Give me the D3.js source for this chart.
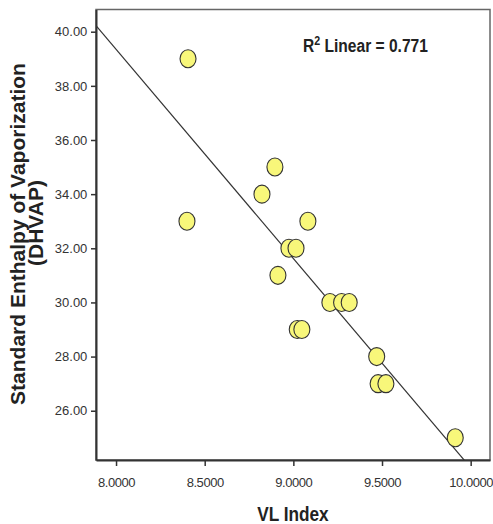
<html>
<head>
<script src="https://cdn.jsdelivr.net/npm/d3@7"></script>
<style>
  body { margin: 0; background: #fff; }
  text { font-family: Arial, "Liberation Sans", sans-serif; }
  .tick text { font-size: 13px; fill: #333; }
</style>
</head>
<body>
<svg id="chart" width="493" height="524"></svg>
<script>
// VL Index vs DHVAP
var vlIndex = [8.406, 8.400, 8.823, 8.896, 8.975, 9.015, 9.082, 8.913, 9.206,
               9.272, 9.315, 9.022, 9.048, 9.470, 9.478, 9.522, 9.913];
var dhvap   = [39, 33, 34, 35, 32, 32, 33, 31, 30,
               30, 30, 29, 29, 28, 27, 27, 25];
var xTicks = [8.0, 8.5, 9.0, 9.5, 10.0];
var yTicks = [26, 28, 30, 32, 34, 36, 38, 40];
var r2Label = "0.771";

var svg = d3.select("#chart");
var pLeft = 96, pRight = 490, pTop = 9.5, pBottom = 460;

var x = d3.scaleLinear().domain([7.887, 10.109]).range([pLeft, pRight]);
var y = d3.scaleLinear().domain([24.18, 40.82]).range([pBottom, pTop]);

svg.append("clipPath").attr("id", "plotclip")
  .append("rect").attr("x", pLeft).attr("y", pTop)
  .attr("width", pRight - pLeft).attr("height", pBottom - pTop);

// frame
svg.append("rect")
  .attr("x", pLeft).attr("y", pTop)
  .attr("width", pRight - pLeft).attr("height", pBottom - pTop)
  .attr("fill", "none").attr("stroke", "#666").attr("stroke-width", 1.5);

// axes
var xAxis = d3.axisBottom(x).tickValues(xTicks).tickSize(6).tickSizeOuter(0)
  .tickFormat(d3.format(".4f"));
var yAxis = d3.axisLeft(y).tickValues(yTicks).tickSize(5).tickSizeOuter(0)
  .tickFormat(d3.format(".2f"));

var gx = svg.append("g").attr("transform", "translate(0," + pBottom + ")").call(xAxis);
var gy = svg.append("g").attr("transform", "translate(" + pLeft + ",0)").call(yAxis);
[gx, gy].forEach(function(g) {
  g.select(".domain").attr("stroke", "#333").attr("stroke-width", 2);
  g.selectAll(".tick line").attr("stroke", "#333").attr("stroke-width", 1.5);
});
gx.selectAll(".tick text").attr("dy", "1.35em").style("letter-spacing", "-0.45px");
gy.selectAll(".tick text").attr("dx", "-0.05em");

// least squares fit
var mx = d3.mean(vlIndex), my = d3.mean(dhvap);
var sxy = d3.sum(vlIndex, function(v, i) { return (v - mx) * (dhvap[i] - my); });
var sxx = d3.sum(vlIndex, function(v) { return (v - mx) * (v - mx); });
var slope = sxy / sxx, icpt = my - slope * mx;
var xd = x.domain();

svg.append("line")
  .attr("clip-path", "url(#plotclip)")
  .attr("x1", x(xd[0])).attr("y1", y(icpt + slope * xd[0]))
  .attr("x2", x(xd[1])).attr("y2", y(icpt + slope * xd[1]))
  .attr("stroke", "#333").attr("stroke-width", 1.2);

// points
svg.append("g").selectAll("ellipse")
  .data(vlIndex)
  .enter().append("ellipse")
  .attr("cx", function(d) { return x(d); })
  .attr("cy", function(d, i) { return y(dhvap[i]); })
  .attr("rx", 8).attr("ry", 9)
  .attr("fill", "#f8f77a").attr("stroke", "#333").attr("stroke-width", 1.1);

// R2 label (condensed look)
var lab = svg.append("text").attr("transform", "translate(303,52) scale(0.82,1)")
  .attr("font-size", 19).attr("font-weight", "bold").attr("fill", "#222");
lab.append("tspan").text("R");
lab.append("tspan").attr("font-size", 13).attr("dy", -7).text("2");
lab.append("tspan").attr("dy", 7).text(" Linear = " + r2Label);

// axis titles
svg.append("text").attr("transform", "translate(293,521) scale(0.82,1)")
  .attr("text-anchor", "middle").attr("font-size", 21).attr("font-weight", "bold")
  .attr("fill", "#222").text("VL Index");

svg.append("text").attr("transform", "translate(25,234) rotate(-90)")
  .attr("text-anchor", "middle").attr("font-size", 21).attr("font-weight", "bold")
  .attr("fill", "#222").text("Standard Enthalpy of Vaporization");
svg.append("text").attr("transform", "translate(43,223) rotate(-90)")
  .attr("text-anchor", "middle").attr("font-size", 21).attr("font-weight", "bold")
  .attr("fill", "#222").text("(DHVAP)");
</script>
</body>
</html>
